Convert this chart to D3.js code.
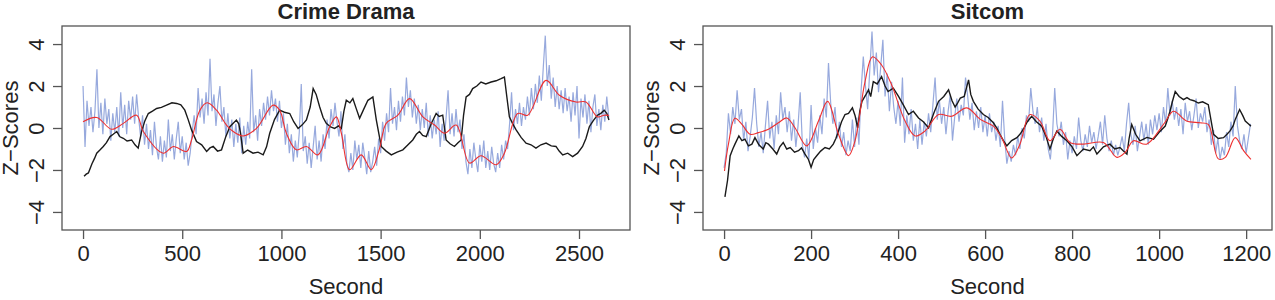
<html>
<head>
<style>
body { margin: 0; background: #fff; }
text { font-family: "Liberation Sans", Arial, sans-serif; fill: #222; }
</style>
</head>
<body>

<svg id="svg" width="1275" height="300"></svg>
<script src="https://d3js.org/d3.v7.min.js"></script>
<script>

// raw per-second signal (blue), sampled every 10 s for crime drama, 5 s for sitcom
var crimeStep = 10;
var crimeBlue = [
  2.0,-0.9,1.3,0.1,1.0,-0.2,0.8,2.8,0.0,1.2,
  -0.3,1.4,0.2,0.9,-0.6,0.7,-0.2,1.0,-0.4,1.7,
  0.0,1.1,-0.3,1.3,0.4,1.5,0.2,1.6,0.5,-0.4,
  0.6,-0.8,0.2,-1.0,-0.1,-1.3,0.3,-0.9,-1.5,-0.4,
  -1.6,-0.6,-1.4,0.4,-1.1,-0.3,-1.5,-0.5,0.3,-1.2,
  -0.4,-1.5,-0.7,-1.8,-1.2,-0.2,0.6,-0.3,1.9,0.5,
  1.4,0.2,1.7,0.6,3.3,0.8,1.6,0.1,1.2,2.0,
  0.3,1.0,-0.4,0.7,-0.5,0.4,-0.9,0.2,-0.7,0.5,
  -1.2,0.1,-0.8,0.3,-0.5,2.8,-0.2,0.6,-0.6,0.9,
  0.1,1.2,0.4,1.5,0.6,1.8,0.8,1.4,0.3,1.3,
  0.0,0.7,-0.8,0.2,-1.2,-0.3,-1.6,-0.6,-1.4,-0.2,
  2.1,-1.1,-0.4,-1.7,-0.7,-1.9,-0.9,0.1,-1.5,-0.6,
  -1.6,-0.3,-1.0,0.4,-0.5,0.9,0.1,1.2,0.3,-0.4,
  0.8,-1.0,-0.3,-1.7,-2.1,-1.2,-2.0,-0.6,-1.5,-0.8,
  -1.9,-0.7,-1.4,-2.2,-1.1,-2.1,-1.6,-0.9,-1.8,-0.5,
  -1.2,0.3,-0.6,0.7,-0.2,1.9,0.2,1.0,-0.1,1.3,
  0.3,1.5,0.6,2.4,1.0,1.8,0.5,1.4,0.2,1.1,
  -0.1,0.9,0.0,1.2,-0.4,0.6,-0.5,0.4,-0.3,0.8,
  -0.9,0.2,-0.6,0.5,1.8,-0.3,0.7,-0.4,0.9,-0.2,
  0.4,-1.0,-0.3,-1.6,-2.2,-1.0,-1.9,-0.7,-1.5,-2.1,
  -0.8,-1.6,-0.6,-1.9,-1.1,-2.0,-0.9,-1.7,-2.1,-1.2,
  -1.9,-0.8,-1.5,-0.6,-1.0,0.2,1.7,-0.1,0.9,0.2,
  1.2,0.1,1.0,0.4,1.5,0.6,1.9,0.9,2.1,1.2,
  2.5,1.3,2.9,4.4,2.0,3.0,1.4,2.4,1.0,2.0,
  0.9,1.8,0.7,1.9,0.8,1.5,0.3,1.7,0.6,2.0,
  -0.5,1.4,0.5,1.6,0.2,1.3,-0.2,1.0,1.6,0.1,
  0.9,-0.1,1.1,0.3,1.5,0.5
];
// smoothed fit (red), [second, z]
var crimeRed = [
  [0,0.3],[69,0.5],[144,-0.06],[203,0.22],[270,0.61],[304,-0.17],[404,-1.2],
  [455,-0.88],[522,-1.12],[547,-0.57],[589,0.85],[626,1.2],[673,0.85],[723,0.14],
  [757,-0.17],[807,-0.38],[874,-0.02],[958,1.09],[991,0.85],[1025,-0.25],[1075,-1.04],
  [1126,-0.88],[1184,-1.28],[1243,0.06],[1277,0.53],[1302,-0.25],[1344,-1.99],
  [1402,-1.28],[1453,-1.99],[1495,-0.96],[1528,0.22],[1587,0.61],[1646,1.4],
  [1713,0.53],[1772,0.14],[1822,-0.25],[1881,0.14],[1948,-1.67],[2006,-1.32],
  [2082,-1.75],[2124,-1.2],[2191,0.69],[2241,0.61],[2334,2.27],[2401,1.56],
  [2485,1.24],[2535,1.24],[2593,0.53],[2627,0.61],[2651,0.6]
];
// comparison series (black), [second, z]
var crimeBlack = [
  [5,-2.3],[16,-2.2],[27,-2.14],[45,-1.7],[58,-1.45],[69,-1.2],[85,-1.05],[102,-0.88],
  [118,-0.7],[136,-0.41],[152,-0.3],[170,-0.17],[186,-0.42],[203,-0.49],[222,-0.62],
  [245,-0.57],[262,-0.8],[278,-0.96],[295,-0.17],[312,0.35],[329,0.69],[350,0.8],
  [371,0.93],[395,0.98],[421,1.09],[448,1.2],[472,1.17],[493,1.1],[513,0.85],
  [530,0.4],[547,-0.09],[572,-0.65],[598,-0.8],[623,-1.12],[640,-0.95],[656,-0.88],
  [678,-1.1],[698,-1.04],[720,-0.4],[740,0.06],[773,0.38],[785,0.2],[794,-0.25],
  [807,-1.2],[830,-1.05],[857,-1.2],[882,-1.15],[908,-1.28],[925,-0.9],[941,-0.25],
  [965,0.4],[991,0.85],[1015,0.75],[1042,0.69],[1062,0.3],[1084,-0.02],[1105,0.15],
  [1126,0.38],[1145,1.0],[1160,1.88],[1175,1.6],[1193,1.0],[1210,0.5],[1226,0.22],
  [1248,0.05],[1268,-0.02],[1288,0.1],[1302,-0.02],[1315,0.8],[1327,1.32],[1345,1.2],
  [1360,1.4],[1378,0.9],[1394,0.46],[1415,0.9],[1436,1.32],[1461,1.48],[1478,0.4],
  [1503,-0.88],[1528,-1.1],[1554,-1.28],[1583,-1.15],[1612,-1.04],[1638,-0.8],
  [1662,-0.57],[1680,-0.3],[1696,-0.17],[1712,-0.35],[1730,-0.41],[1755,0.2],
  [1780,0.69],[1795,0.55],[1813,0.61],[1822,0.0],[1830,-0.57],[1850,-0.75],
  [1872,-0.88],[1890,-0.7],[1906,-0.57],[1918,0.6],[1931,1.48],[1948,1.6],
  [1964,1.88],[1985,2.0],[2006,2.19],[2030,2.1],[2057,2.19],[2082,2.25],[2107,2.35],
  [2124,2.43],[2136,1.5],[2149,0.53],[2166,0.2],[2183,-0.09],[2208,-0.45],
  [2233,-0.72],[2258,-0.8],[2283,-0.96],[2308,-0.8],[2334,-0.72],[2360,-0.85],
  [2384,-0.88],[2400,-1.1],[2418,-1.28],[2443,-1.2],[2468,-1.36],[2493,-1.2],
  [2518,-0.88],[2535,-0.5],[2552,0.06],[2572,0.35],[2593,0.61],[2610,0.7],
  [2627,0.85],[2640,0.7],[2651,0.38]
];

var sitcomStep = 5;
var sitcomBlue = [
  -1.9,-1.2,0.7,-0.3,1.0,0.2,1.8,0.4,0.9,-0.6,
  0.3,-1.1,-0.4,0.5,1.9,0.2,-0.9,-0.2,-1.2,0.1,
  1.3,-0.5,0.3,-1.0,0.6,-0.3,1.7,0.4,1.0,-0.2,
  0.8,-0.6,0.4,-0.9,0.1,1.7,-0.8,-1.4,-0.5,-1.5,
  1.1,-1.0,0.0,-0.7,0.6,-0.3,1.4,0.5,3.1,1.2,
  0.2,1.0,-0.5,0.3,-0.9,-0.2,-1.3,-0.6,-1.1,0.4,
  -0.9,0.5,-0.8,1.8,3.4,2.0,0.9,2.8,4.6,2.5,
  3.6,1.7,2.9,4.2,1.5,2.6,0.8,2.2,1.0,0.2,
  1.3,0.1,2.4,-0.7,0.6,-0.3,0.9,-0.6,0.2,-1.0,
  0.4,-0.8,0.3,-0.4,0.7,-0.2,1.1,2.4,0.4,1.3,
  0.2,1.0,-0.3,0.8,1.6,-0.6,0.5,1.4,0.3,1.1,
  0.6,2.4,1.5,0.4,1.2,-0.1,0.8,0.0,1.0,-0.2,
  0.6,-0.4,0.7,-0.2,0.3,-0.6,0.1,-0.9,1.3,-0.5,
  -1.7,-1.1,-1.6,-0.8,-1.3,-0.4,-1.0,0.0,-0.5,0.6,
  0.3,1.9,0.8,0.2,1.0,-0.2,0.5,-0.6,0.2,-1.0,
  -1.5,-0.3,1.9,0.2,-0.4,0.3,-0.8,-0.2,-1.5,-0.6,
  -1.2,-0.4,-1.0,0.5,-0.6,-1.1,-0.3,-0.9,0.1,-0.7,
  -0.2,-1.0,-0.4,0.3,-0.8,0.6,-0.5,-1.1,-0.6,-1.3,
  -0.8,-1.3,-0.9,-0.4,-1.1,0.2,1.2,-0.3,-0.8,0.1,
  -1.1,-0.4,0.3,-0.6,0.2,-0.8,0.4,-0.3,0.6,-0.1,
  0.7,-0.2,1.0,0.2,1.9,0.6,1.3,0.4,1.0,0.1,
  0.9,-0.3,1.2,0.3,0.8,-0.1,0.6,1.4,0.0,0.7,
  0.3,1.0,-0.2,0.4,-0.8,-0.1,-1.2,-0.5,-1.5,-0.9,
  -1.3,-0.2,-0.9,0.3,-0.4,2.0,0.1,-0.6,-1.0,-0.3,
  -1.2,-0.5,0.2
];
var sitcomRed = [
  [1,-2.05],[10,-0.77],[25,0.46],[41,0.17],[60,-0.3],[79,-0.22],[102,-0.06],
  [125,0.25],[144,0.48],[163,0.01],[190,-0.85],[217,0.33],[238,1.27],[263,-0.3],
  [286,-1.32],[301,-0.61],[324,2.21],[341,3.39],[362,3.0],[385,2.06],[416,0.33],
  [439,-0.38],[462,-0.14],[493,0.64],[523,0.56],[558,0.96],[589,0.41],[619,0.09],
  [638,-0.46],[661,-1.43],[680,-0.77],[703,0.64],[726,0.33],[749,-0.61],[772,-0.06],
  [795,-0.69],[826,-0.77],[872,-0.69],[903,-1.4],[922,-1.16],[941,-0.61],[971,-0.77],
  [1010,0.17],[1033,0.8],[1063,0.33],[1094,0.25],[1113,0.17],[1136,-1.47],[1152,-1.4],
  [1175,-0.46],[1194,-1.08],[1211,-1.5]
];
var sitcomBlack = [
  [2,-3.28],[8,-2.49],[14,-1.32],[20,-1.0],[25,-0.77],[34,-0.38],[41,-0.6],[48,-0.53],
  [56,-0.85],[64,-0.77],[71,-0.46],[80,-0.8],[90,-1.0],[96,-0.7],[102,-0.77],
  [112,-1.0],[121,-1.24],[128,-0.9],[136,-0.69],[144,-1.0],[152,-0.93],[162,-1.15],
  [171,-1.08],[178,-0.95],[186,-1.24],[194,-1.5],[200,-1.87],[206,-1.5],[213,-1.32],
  [222,-1.1],[232,-0.93],[242,-1.0],[251,-0.77],[257,-0.5],[263,-0.14],[270,0.3],
  [278,0.64],[286,0.7],[295,0.96],[301,0.6],[307,0.01],[312,0.8],[317,1.27],
  [325,1.55],[332,1.82],[337,1.5],[343,2.21],[352,2.1],[362,2.45],[370,2.0],
  [377,1.74],[389,1.9],[401,1.51],[412,1.1],[424,0.64],[435,0.8],[447,0.48],
  [458,0.3],[470,0.01],[482,0.7],[493,1.27],[505,1.5],[516,1.82],[524,1.3],[531,1.0],
  [537,1.2],[543,1.43],[552,1.5],[562,2.29],[567,1.6],[573,1.27],[584,0.9],[596,0.64],
  [607,0.5],[619,0.25],[627,0.0],[634,-0.3],[642,-0.6],[650,-0.85],[661,-0.6],
  [673,-0.46],[680,-0.3],[688,-0.06],[697,0.3],[707,0.56],[718,0.3],[730,0.09],
  [740,-0.4],[749,-1.0],[757,-0.5],[765,-0.14],[776,-0.4],[788,-0.61],[800,-0.9],
  [811,-1.32],[826,-1.0],[841,-1.08],[849,-0.9],[857,-1.24],[872,-0.9],[887,-0.77],
  [898,-1.0],[910,-0.93],[918,-1.1],[926,-1.24],[931,-0.5],[937,0.17],[946,-0.3],
  [956,-0.61],[972,-0.45],[987,-0.53],[1000,-0.2],[1014,0.09],[1020,0.45],[1025,0.8],
  [1031,1.3],[1037,1.74],[1046,1.5],[1056,1.35],[1064,1.45],[1071,1.35],[1080,1.3],
  [1090,1.19],[1100,1.25],[1113,1.11],[1119,0.4],[1125,-0.3],[1136,-0.5],
  [1148,-0.46],[1156,-0.3],[1163,-0.14],[1170,0.1],[1175,0.41],[1185,0.88],
  [1192,0.6],[1198,0.33],[1205,0.2],[1211,0.09]
];

var yTicks = [-4, -2, 0, 2, 4];
var crimeXTicks = [0, 500, 1000, 1500, 2000, 2500];
var sitcomXTicks = [0, 200, 400, 600, 800, 1000, 1200];

function panel(o) {
  var svg = d3.select("#svg");
  var g = svg.append("g");
  var pad = 0.04 * o.xmax;
  var x = d3.scaleLinear().domain([-pad, o.xmax + pad]).range([o.left, o.right]);
  var y = d3.scaleLinear().domain([-4.86, 4.86]).range([o.bottom, o.top]);

  var blue = o.blue.map((v,i) => [i*o.step, v]);
  var line = d3.line().x(d => x(d[0])).y(d => y(d[1]));

  g.append("path").datum(blue)
    .attr("d", line)
    .style("fill", "none").style("stroke", "#7d94d4").style("stroke-width", 1.2)
    .style("opacity", 0.8);
  g.append("path").datum(o.black)
    .attr("d", line)
    .style("fill", "none").style("stroke", "#1a1a1a").style("stroke-width", 1.4);
  g.append("path").datum(o.red)
    .attr("d", line.curve(d3.curveCatmullRom))
    .style("fill", "none").style("stroke", "#ee3030").style("stroke-width", 1.1);

  g.append("rect")
    .attr("x", o.left).attr("y", o.top)
    .attr("width", o.right - o.left).attr("height", o.bottom - o.top)
    .style("fill", "none").style("stroke", "#555").style("stroke-width", 1.3);

  var xa = g.append("g").attr("transform", "translate(0," + o.bottom + ")")
    .call(d3.axisBottom(x).tickValues(o.xticks).tickFormat(d3.format("d"))
      .tickSize(9).tickPadding(6).tickSizeOuter(0));
  xa.select(".domain").remove();
  xa.selectAll("line").style("stroke", "#555").style("stroke-width", 1.3);
  xa.selectAll("text").style("font-size", "22px").style("fill", "#222");

  var ya = g.append("g").attr("transform", "translate(" + o.left + ",0)")
    .call(d3.axisLeft(y).tickValues(yTicks).tickSize(9)
      .tickFormat(d => d < 0 ? "\u2212" + (-d) : "" + d));
  ya.select(".domain").remove();
  ya.selectAll("line").style("stroke", "#555").style("stroke-width", 1.3);
  // R draws y labels parallel to the axis
  ya.selectAll("text")
    .attr("x", null).attr("dy", null)
    .attr("text-anchor", "middle")
    .attr("transform", "translate(" + (o.ylab - o.left) + ",0) rotate(-90)")
    .style("font-size", "22px").style("fill", "#222");

  var mid = (o.left + o.right) / 2;
  svg.append("text").attr("x", mid).attr("y", 19)
    .attr("text-anchor", "middle").style("font-size", "22px").style("font-weight", "bold")
    .text(o.title);
  svg.append("text").attr("x", mid).attr("y", 294)
    .attr("text-anchor", "middle").style("font-size", "22px")
    .text("Second");
  svg.append("text")
    .attr("transform", "translate(" + o.ytitle + "," + ((o.top + o.bottom) / 2) + ") rotate(-90)")
    .attr("text-anchor", "middle").style("font-size", "22px")
    .text("Z\u2212Scores");
}

panel({ left: 62, right: 630, top: 26, bottom: 230, xmax: 2651, step: crimeStep,
  blue: crimeBlue, red: crimeRed, black: crimeBlack, xticks: crimeXTicks,
  ylab: 44, ytitle: 18, title: "Crime Drama" });
panel({ left: 703, right: 1272, top: 26, bottom: 230, xmax: 1211, step: sitcomStep,
  blue: sitcomBlue, red: sitcomRed, black: sitcomBlack, xticks: sitcomXTicks,
  ylab: 685, ytitle: 659, title: "Sitcom" });

</script>
</body>
</html>
